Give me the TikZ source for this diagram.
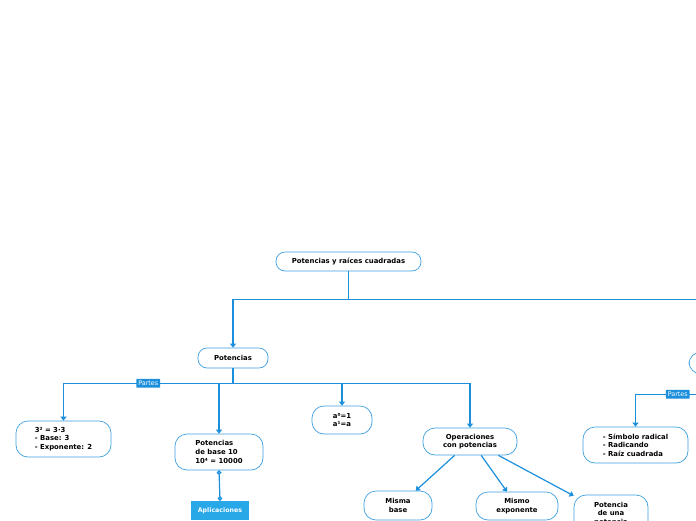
\documentclass[tikz,border=0pt]{standalone}
\usepackage{fontspec}
\setmainfont{DejaVu Sans}
\usetikzlibrary{arrows.meta, positioning}
\definecolor{mapblue}{HTML}{1B8FDB}
\definecolor{aplblue}{HTML}{29A8E8}
\tikzset{
link/.style={draw=mapblue, line width=1.2pt}, % plain edge of the map
arr/.style={link, -{Triangle[width=6pt,length=4pt]}}, % edge ending in an arrow head
topic/.style={draw=mapblue!85, line width=0.7pt, fill=white, rounded corners=12pt,
  font=\bfseries\fontsize{6.9}{8.6}\selectfont, inner sep=2pt}, % every idea of the map
tag/.style={fill=mapblue, text=white, font=\fontsize{6.4}{7}\selectfont,
  inner sep=2pt, rounded corners=0.6pt}, % label sitting on an edge
}

\begin{document}
\begin{tikzpicture}[x=1pt,y=-1pt]
    \useasboundingbox (0,0) rectangle (696,520);
    % ideas
    \node[topic, rounded corners=9pt, minimum width=145pt, minimum height=19pt] (root) at (348.5,261.5) {Potencias y raíces cuadradas};
    \node[topic, rounded corners=9pt, minimum width=70pt, minimum height=20pt] (pot) at (233,358) {Potencias};
    \node[topic, minimum width=62pt, minimum height=22pt] (raiz) at (720,363) {};
    \node[topic, align=left, minimum width=95pt, minimum height=36pt] (cuadrado) at (63.5,439) {3² = 3·3\\- Base: 3\\- Exponente: 2};
    \node[topic, align=left, minimum width=88pt, minimum height=36pt] (base10) at (219,452) {Potencias\\de base 10\\10⁴ = 10000};
    \node[topic, align=center, minimum width=60pt, minimum height=28pt] (exps) at (342,420) {a⁰=1\\a¹=a};
    \node[topic, align=center, minimum width=94pt, minimum height=27pt] (ops) at (470,441.5) {Operaciones\\con potencias};
    \node[topic, align=left, minimum width=105pt, minimum height=36pt] (simbolo) at (635.5,445) {- Símbolo radical\\- Radicando\\- Raíz cuadrada};
    \node[topic, align=center, minimum width=68pt, minimum height=29pt] (misma) at (398,505.5) {Misma\\base};
    \node[topic, align=center, minimum width=82pt, minimum height=28pt] (mismo) at (517,506) {Mismo\\exponente};
    \node[topic, align=center, minimum width=74pt, minimum height=38pt] (potpot) at (611,514) {Potencia\\de una\\potencia};
    \node[fill=aplblue, text=white, font=\bfseries\fontsize{6.3}{7}\selectfont, minimum width=58pt, minimum height=19pt] (apl) at (220,510.5) {Aplicaciones};
    % edges
    \draw[arr] (root.south) -- ++(0,28) -| (pot.north);
    \draw[arr] (root.south) -- ++(0,28) -| (raiz.north);
    \draw[arr] (pot.south) -- ++(0,15) -| node[tag, pos=0.25] {Partes} (cuadrado.north);
    \draw[arr] (pot.south) -- ++(0,15) -| (base10.north);
    \draw[arr] (pot.south) -- ++(0,15) -| (exps.north);
    \draw[arr] (pot.south) -- ++(0,15) -| (ops.north);
    \draw[arr] (raiz.south) -- ++(0,20) -| node[tag, pos=0.25] {Partes} (simbolo.north);
    \draw[link, {Circle[open, fill=mapblue!40, length=4.5pt]}-{Circle[open, fill=mapblue!40, length=4.5pt]}] (base10.south) -- (apl.north);
    \draw[arr] (ops.222) -- (misma.40);
    \draw[arr] (ops.309) -- (mismo.125);
    \draw[arr] (ops.334) -- (potpot.154);
\end{tikzpicture}
\end{document}
